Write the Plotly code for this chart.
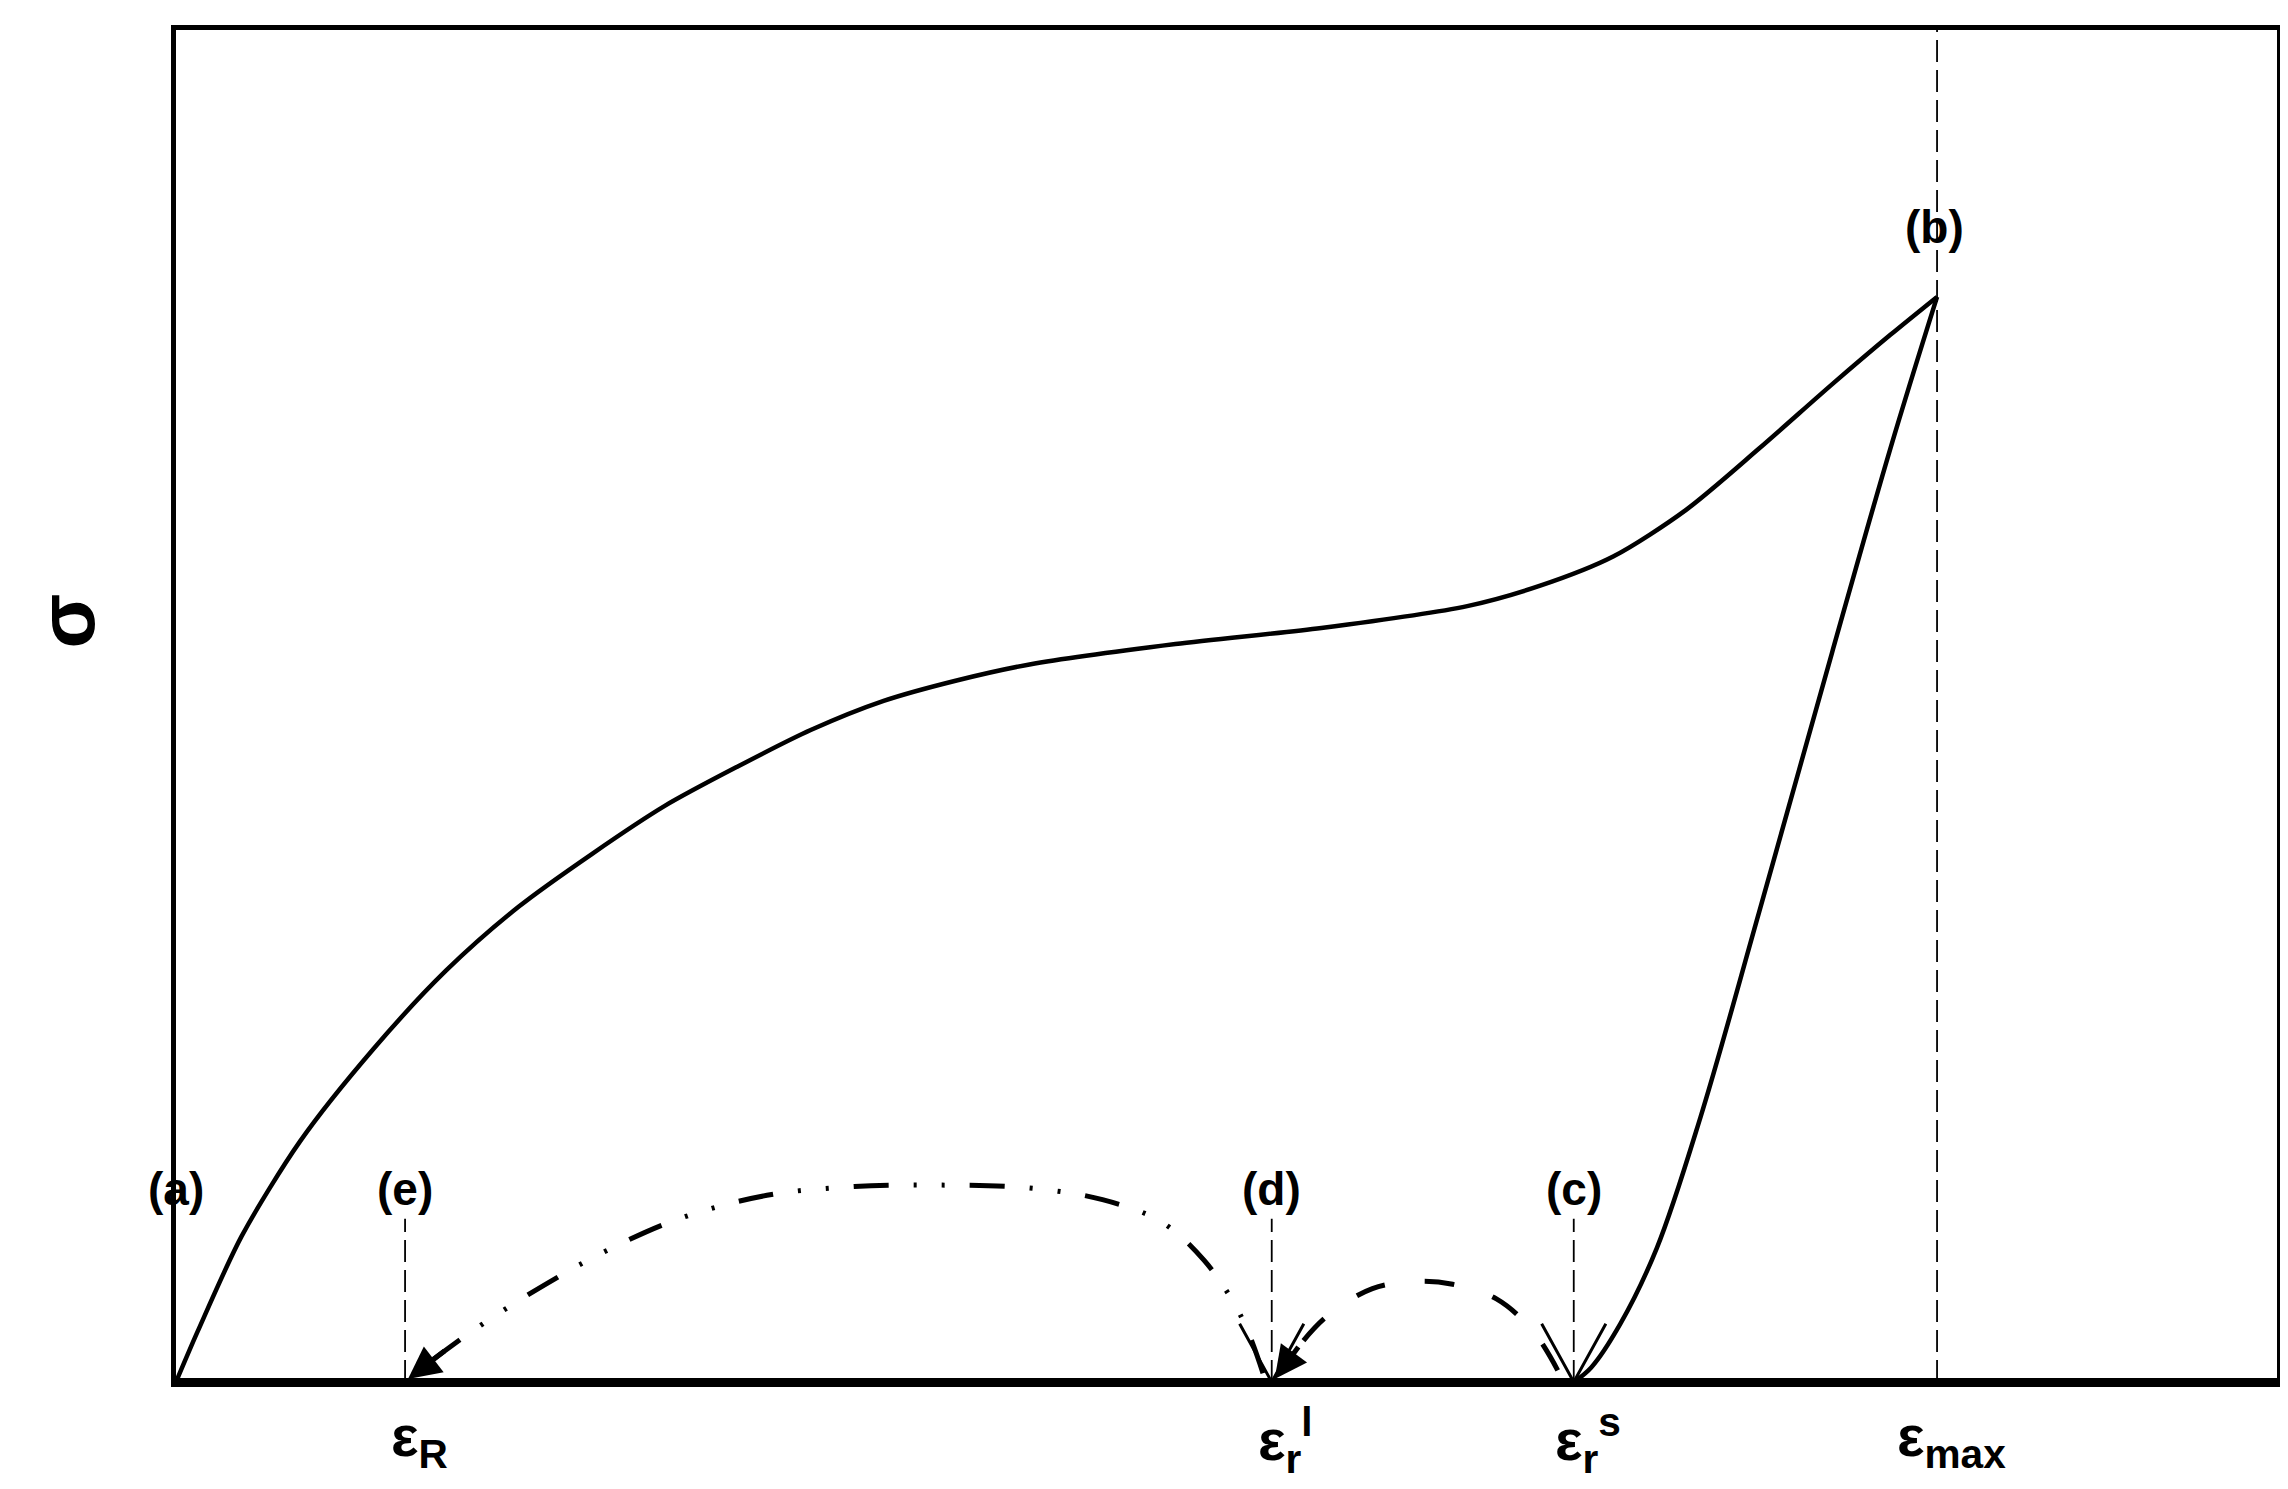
import plotly.graph_objects as go

# reference units: x in [115,1555], y = height above strain axis, [0,927]
X0, X1, Y1 = 115, 1555, 927
strain_pos = {"eR": 272, "erl": 866, "ers": 1073, "emax": 1322}
strain_labels = ["ε<sub>R</sub>", "ε<sub>r</sub><sup>l</sup>", "ε<sub>r</sub><sup>s</sup>", "ε<sub>max</sub>"]
point_labels = ["(a)", "(e)", "(d)", "(c)", "(b)"]
point_x = [115, 272, 866, 1073, 1320]
point_y = [132, 132, 132, 132, 792]

load_x = [115, 130, 160, 200, 250, 300, 350, 400, 450, 500, 550, 600, 650, 700, 800, 900, 1000, 1050, 1100, 1150, 1200, 1250, 1290, 1322]
load_y = [0, 35, 100, 165, 228, 282, 326, 362, 395, 422, 447, 467, 481, 492, 506, 517, 532, 546, 566, 598, 640, 684, 718, 744]
unload_x = [1322, 1290, 1250, 1200, 1160, 1130, 1105, 1085, 1073]
unload_y = [744, 640, 500, 322, 182, 92, 40, 10, 0]
arc1_x = [1062, 1045, 1020, 990, 965, 935, 905, 885, 872]
arc1_y = [8, 35, 57, 67, 69, 64, 46, 25, 6]
arc2_x = [860, 845, 820, 790, 750, 700, 640, 580, 520, 460, 410, 370, 330, 300, 280]
arc2_y = [6, 45, 83, 110, 125, 133, 135, 134, 128, 112, 90, 68, 43, 22, 7]

fig = go.Figure()
blk = "black"
fig.add_trace(go.Scatter(x=load_x, y=load_y, mode="lines", line=dict(color=blk, width=4.5, shape="spline", smoothing=0.8)))
fig.add_trace(go.Scatter(x=unload_x, y=unload_y, mode="lines", line=dict(color=blk, width=4.5, shape="spline")))
fig.add_trace(go.Scatter(x=arc1_x, y=arc1_y, mode="lines", line=dict(color=blk, width=5, dash="30px,40px", shape="spline")))
fig.add_trace(go.Scatter(x=arc2_x, y=arc2_y, mode="lines", line=dict(color=blk, width=5, dash="35px,25px,3px,25px,3px,25px", shape="spline")))

# vertical dashed guide lines
for key, top in [("eR", 112), ("erl", 112), ("ers", 112), ("emax", Y1)]:
    xv = strain_pos[key]
    fig.add_trace(go.Scatter(x=[xv, xv], y=[0, top], mode="lines", line=dict(color=blk, width=1.8, dash="22px,8px")))
# open V heads on d and c
for key in ["erl", "ers"]:
    xv = strain_pos[key]
    fig.add_trace(go.Scatter(x=[xv - 22, xv, xv + 22], y=[40, 0, 40], mode="lines", line=dict(color=blk, width=3)))

# arrowheads at ends of arcs
fig.add_annotation(x=strain_pos["erl"] + 2, y=2, ax=arc1_x[-2], ay=arc1_y[-2], xref="x", yref="y", axref="x", ayref="y",
                   showarrow=True, arrowhead=2, arrowsize=1.3, arrowwidth=5, arrowcolor=blk, text="")
fig.add_annotation(x=strain_pos["eR"] + 2, y=2, ax=arc2_x[-2], ay=arc2_y[-2], xref="x", yref="y", axref="x", ayref="y",
                   showarrow=True, arrowhead=2, arrowsize=1.3, arrowwidth=5, arrowcolor=blk, text="")

fnt = dict(family="Liberation Sans, Arial", color=blk)
for t, xv, yv in zip(point_labels, point_x, point_y):
    fig.add_annotation(x=xv, y=yv, text="<b>" + t + "</b>", showarrow=False, font=dict(size=46, **fnt))
for t, key in zip(strain_labels, ["eR", "erl", "ers", "emax"]):
    fig.add_annotation(x=strain_pos[key], y=0, yanchor="middle", yshift=-58, xshift=14, text="<b>" + t + "</b>",
                       showarrow=False, font=dict(size=58, **fnt))
fig.add_annotation(x=-0.052, xref="paper", xanchor="center", y=0.563, yref="paper", yanchor="middle",
                   text="<b>σ</b>", textangle=-90, showarrow=False, font=dict(size=80, **fnt))

fig.update_layout(width=2288, height=1489, showlegend=False, plot_bgcolor="white", paper_bgcolor="white",
                  margin=dict(l=168, r=19, t=22, b=115))
fig.update_xaxes(range=[X0, X1], showgrid=False, zeroline=False, showticklabels=False, ticks="",
                 showline=True, linecolor=blk, linewidth=4.5, mirror=True)
fig.update_yaxes(range=[0, Y1], showgrid=False, zeroline=False, showticklabels=False, ticks="",
                 showline=True, linecolor=blk, linewidth=4.5, mirror=True)
fig.add_shape(type="line", xref="x", yref="y", x0=X0, x1=X1, y0=0, y1=0, line=dict(color=blk, width=8))
fig.write_html("out.html")
